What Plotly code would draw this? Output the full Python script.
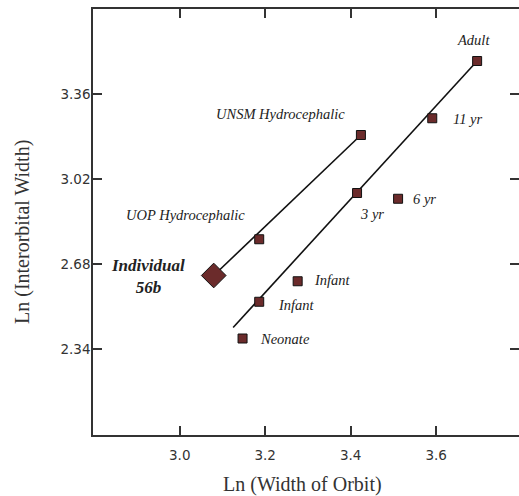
import plotly.graph_objects as go

# --- data ---
labels = ["Adult", "11 yr", "UNSM Hydrocephalic", "3 yr", "6 yr",
          "UOP Hydrocephalic", "Infant", "Infant", "Neonate"]
orbit_width = [3.696, 3.591, 3.424, 3.415, 3.511, 3.186, 3.276, 3.186, 3.147]
interorbital = [3.493, 3.264, 3.197, 2.965, 2.942, 2.780, 2.612, 2.530, 2.383]

individual_label = "Individual<br>56b"
individual_x = [3.0795]
individual_y = [2.635]

# fitted lines (endpoints)
hydro_line_x = [3.0795, 3.424]
hydro_line_y = [2.635, 3.197]
normal_line_x = [3.125, 3.696]
normal_line_y = [2.427, 3.493]

x_ticks = [3.0, 3.2, 3.4, 3.6]
y_ticks = [2.34, 2.68, 3.02, 3.36]

x_title = "Ln (Width of Orbit)"
y_title = "Ln (Interorbital Width)"

# --- styling ---
marker_fill = "#6b2b2b"
serif = "Liberation Serif"

fig = go.Figure()
for lx, ly in [(hydro_line_x, hydro_line_y), (normal_line_x, normal_line_y)]:
    fig.add_trace(go.Scatter(x=lx, y=ly, mode="lines",
                             line=dict(color="#111111", width=1.6),
                             hoverinfo="skip", showlegend=False))

fig.add_trace(go.Scatter(x=orbit_width, y=interorbital, mode="markers",
                         marker=dict(symbol="square", size=9, color=marker_fill,
                                     line=dict(color="#111111", width=1)),
                         text=labels, showlegend=False))
fig.add_trace(go.Scatter(x=individual_x, y=individual_y, mode="markers",
                         marker=dict(symbol="diamond", size=19, color=marker_fill,
                                     line=dict(color="#111111", width=1)),
                         showlegend=False))

# label offsets in pixels (anchor, xshift, yshift)
label_offsets = [
    ("center", -4, 21),   # Adult
    ("left", 19, -1),     # 11 yr
    ("center", -80, 21),  # UNSM
    ("center", 15, -21),  # 3 yr
    ("left", 13, 0),      # 6 yr
    ("center", -74, 24),  # UOP
    ("left", 14, 1),      # Infant upper
    ("left", 17, -3),     # Infant lower
    ("left", 15, 0),      # Neonate
]
for txt, x, y, (anc, dx, dy) in zip(labels, orbit_width, interorbital, label_offsets):
    fig.add_annotation(x=x, y=y, text="<i>" + txt + "</i>", showarrow=False,
                       xanchor=anc, yanchor="middle", xshift=dx, yshift=dy,
                       font=dict(family=serif, size=14.5, color="#222222"))
fig.add_annotation(x=individual_x[0], y=individual_y[0],
                   text="<b><i>" + individual_label + "</i></b>",
                   showarrow=False, xanchor="center", yanchor="middle",
                   xshift=-66, yshift=-1, align="center",
                   font=dict(family=serif, size=17, color="#222222"))

# axis titles as paper-anchored annotations
fig.add_annotation(xref="paper", yref="paper", x=0.5, y=0, text=x_title,
                   showarrow=False, xanchor="center", yanchor="middle",
                   xshift=-4, yshift=-49,
                   font=dict(family=serif, size=20, color="#333333"))
fig.add_annotation(xref="paper", yref="paper", x=0, y=0.5, text=y_title,
                   showarrow=False, xanchor="center", yanchor="middle",
                   textangle=-90, xshift=-71, yshift=-10,
                   font=dict(family=serif, size=20, color="#333333"))

axis_common = dict(showgrid=False, zeroline=False, showline=True, mirror="ticks",
                   linecolor="#333333", linewidth=1.5, ticks="inside", ticklen=9,
                   tickwidth=1.5, tickcolor="#333333", automargin=False,
                   tickfont=dict(family="DejaVu Sans", size=13.5, color="#333333"))

fig.update_layout(
    width=519, height=496,
    margin=dict(l=93, r=0, t=9, b=61),
    paper_bgcolor="white", plot_bgcolor="white",
    xaxis=dict(range=[2.797, 3.794], tickvals=x_ticks,
               ticktext=[f"{v:.1f}" for v in x_ticks],
               ticklabelstandoff=7,
               **axis_common),
    yaxis=dict(range=[1.997, 3.701], tickvals=y_ticks,
               ticktext=[f"{v:.2f}" for v in y_ticks],
               ticklabelstandoff=-2,
               **axis_common),
)

fig.write_html("out.html", config={"displayModeBar": False},
               post_script="document.body.style.margin='0';"
                           "document.body.style.overflow='hidden';")
